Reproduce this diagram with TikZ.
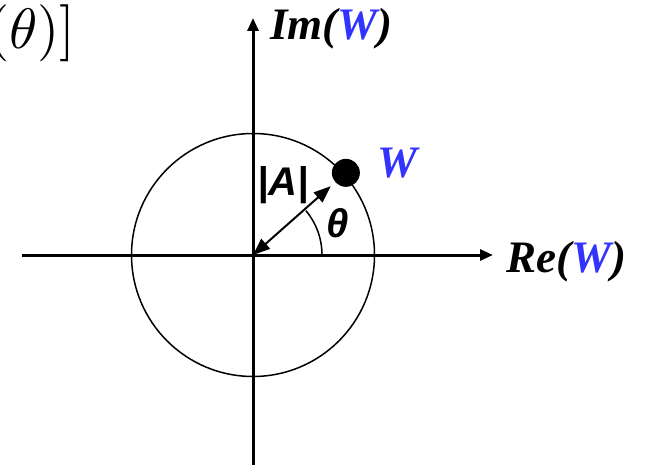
\documentclass[tikz,border=0pt]{standalone}
\usepackage{fontspec}
\newfontfamily\lserif{Liberation Serif}
\newfontfamily\lsans{Liberation Sans}
\usetikzlibrary{arrows.meta,calc}
\definecolor{wblue}{RGB}{51,51,255}

\begin{document}
\begin{tikzpicture}[x=1pt,y=1pt,
  axis/.style={line width=3pt,-{Triangle[length=13pt,width=11pt]}},
  lbl/.style={inner sep=0pt,font=\lserif\bfseries\itshape\fontsize{45}{50}\selectfont},
  sym/.style={inner sep=0pt,font=\lsans\bfseries\itshape\fontsize{40}{46}\selectfont},
  dot/.style={circle,fill,inner sep=0pt,minimum size=28pt}]
\useasboundingbox (0,0) rectangle (647,464);
\coordinate (O) at (253,209);
\coordinate (xl) at (22,209);\coordinate (xr) at (493,209);
\coordinate (yb) at (253,-2);\coordinate (yt) at (253,446);
\draw[axis] (xl)--(xr);
\draw[axis] (yb)--(yt);
\draw[line width=1.5pt] (O) circle (121.5);
\node[dot] (W) at ($(O)+(41.5:124)$) {};
\draw[line width=2pt,{Triangle[length=17pt,width=13pt]}-{Triangle[length=17pt,width=13pt]},shorten >=6pt] (O)--(W);
\draw[line width=1.5pt] ($(O)+(0:69)$) arc (0:40:69);
\node[sym] (A) at (283,279) {|A|};
\node[sym] (th) at (338,241) {θ};
\node[lbl,anchor=base west] (Wl) at (377,286) {\textcolor{wblue}{W}};
\node[lbl,anchor=base west] (im) at (270,424) {Im(\textcolor{wblue}{W})};
\node[lbl,anchor=base west] (re) at (506,192) {Re(\textcolor{wblue}{W})};
\node[inner sep=0pt,anchor=base east,scale=5.7] (eq) at (77,416) {$(\theta)]$};
\end{tikzpicture}
\end{document}
